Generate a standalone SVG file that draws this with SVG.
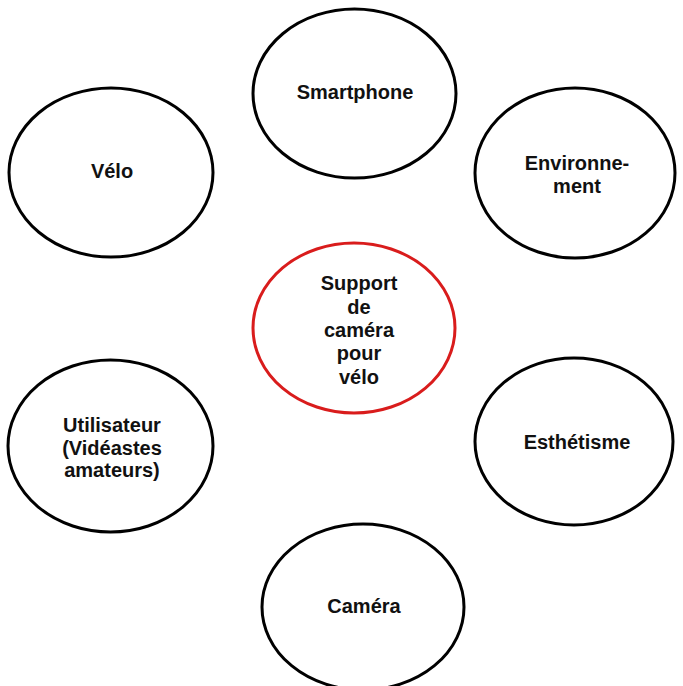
<svg xmlns="http://www.w3.org/2000/svg" width="683" height="686" viewBox="0 0 683 686">
<style>
.n{fill:#fff;stroke:#000;stroke-width:3}
.c{fill:#fff;stroke:#d91c1c;stroke-width:3}
text{font-family:"Liberation Sans",Arial,sans-serif;font-weight:bold;font-size:20px;fill:#111;text-anchor:middle}
</style>
<rect width="683" height="686" fill="#fff"/>
<g id="connectors"></g>
<g id="smartphone"><ellipse class="n" cx="354.5" cy="93.5" rx="101.5" ry="84.5"/><text x="355" y="99">Smartphone</text></g>
<g id="velo"><ellipse class="n" cx="111" cy="172.5" rx="102" ry="84.5"/><text x="112" y="178">Vélo</text></g>
<g id="environnement"><ellipse class="n" cx="575" cy="173" rx="100" ry="85"/><text x="577" y="170">Environne-</text><text x="577" y="193">ment</text></g>
<g id="support"><ellipse class="c" cx="354" cy="328" rx="101" ry="85"/><text x="359" y="290">Support</text><text x="359" y="314">de</text><text x="359" y="337">caméra</text><text x="359" y="360">pour</text><text x="359" y="384">vélo</text></g>
<g id="utilisateur"><ellipse class="n" cx="110.5" cy="446" rx="102.5" ry="86"/><text x="112" y="432">Utilisateur</text><text x="112" y="455">(Vidéastes</text><text x="112" y="477">amateurs)</text></g>
<g id="esthetisme"><ellipse class="n" cx="574" cy="441.5" rx="99" ry="83.5"/><text x="577" y="449">Esthétisme</text></g>
<g id="camera"><ellipse class="n" cx="363" cy="607" rx="101" ry="83"/><text x="364" y="613">Caméra</text></g>
</svg>
